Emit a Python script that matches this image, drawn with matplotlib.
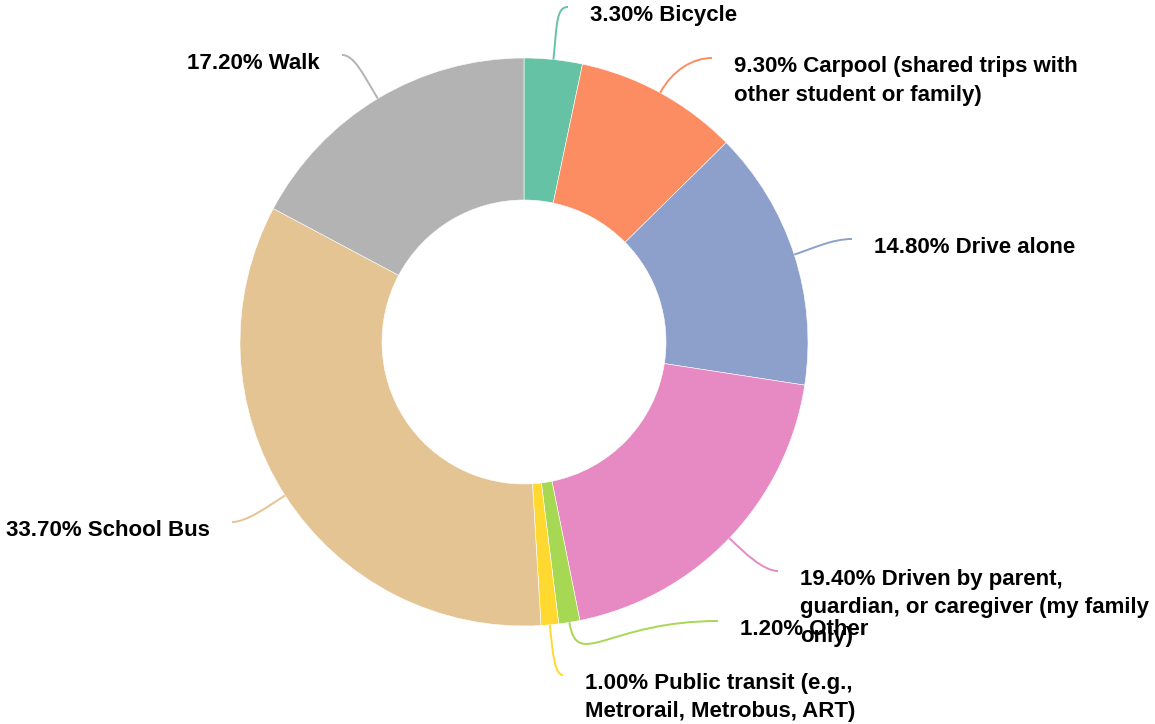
import numpy as np
import matplotlib.pyplot as plt
from matplotlib.path import Path
from matplotlib.patches import PathPatch

W, H = 1155, 724

modes = ["Bicycle", "Carpool (shared trips with\nother student or family)", "Drive alone",
         "Driven by parent,\nguardian, or caregiver (my family\nonly)", "Other",
         "Public transit (e.g.,\nMetrorail, Metrobus, ART)", "School Bus", "Walk"]
shares = [3.3, 9.3, 14.8, 19.4, 1.2, 1.0, 33.7, 17.2]
colors = ["#66c2a5", "#fc8d62", "#8da0cb", "#e78ac3", "#a6d854", "#ffd92f", "#e5c494", "#b3b3b3"]

# label layout in pixels from top-left: leader end point, side, curve lengths
line_ends = [(568, 7), (712, 58), (852, 239), (778, 571), (718, 621), (563, 675), (232, 522), (342, 55)]
sides = [1, 1, 1, 1, 1, 1, -1, -1]
curve_a = [35, 25, 20, 20, 50, 30, 20, 30]
curve_b = [12, 20, 20, 15, 110, 8, 15, 12]

cx, cy, r_out, r_in = 524, 342, 284, 142

plt.rcParams['font.family'] = ['Liberation Sans', 'DejaVu Sans']

fig = plt.figure(figsize=(W / 100, H / 100), dpi=100)
ax = fig.add_axes([0, 0, 1, 1])

wedges, _ = ax.pie(shares, colors=colors, startangle=90, counterclock=False,
                   center=(cx, H - cy), radius=r_out,
                   wedgeprops=dict(width=r_out - r_in, edgecolor="white", linewidth=0.4))

for w, lab, val, col, (ex, ey), side, a, b in zip(wedges, modes, shares, colors, line_ends,
                                                   sides, curve_a, curve_b):
    th = np.deg2rad((w.theta1 + w.theta2) / 2)
    dx, dy = np.cos(th), np.sin(th)
    p0 = (cx + r_out * dx, H - cy + r_out * dy)
    p1 = (p0[0] + a * dx, p0[1] + a * dy)
    p3 = (ex, H - ey)
    p2 = (p3[0] - side * b, p3[1])
    path = Path([p0, p1, p2, p3], [Path.MOVETO, Path.CURVE4, Path.CURVE4, Path.CURVE4])
    ax.add_patch(PathPatch(path, facecolor="none", edgecolor=col, lw=1.4))

    lines = ("%.2f%% " % val + lab).split("\n")
    tx = ex + side * 22
    for i, ln in enumerate(lines):
        ax.text(tx, H - (ey + 6 + 8 + i * 28.5), ln, ha="left" if side > 0 else "right",
                va="baseline", fontsize=16, fontweight="bold", color="black")

ax.set_xlim(0, W)
ax.set_ylim(0, H)
ax.set_aspect("equal")
ax.axis("off")

fig.savefig("out.png", dpi=100)
